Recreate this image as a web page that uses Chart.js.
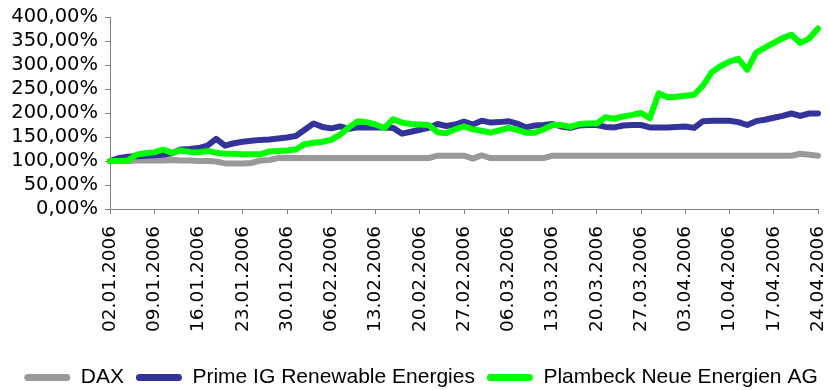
<!DOCTYPE html>
<html>
<head>
<meta charset="utf-8">
<script src="https://cdn.jsdelivr.net/npm/chart.js@4.4.0/dist/chart.umd.min.js"></script>
<style>
html,body{margin:0;padding:0;background:#fff;}
#wrap{width:828px;height:390px;position:relative;}
</style>
</head>
<body>
<div id="wrap"><canvas id="c" width="828" height="390"></canvas></div>
<script>
const dates = [
"02.01.2006","03.01.2006","04.01.2006","05.01.2006","06.01.2006","09.01.2006","10.01.2006","11.01.2006","12.01.2006","13.01.2006",
"16.01.2006","17.01.2006","18.01.2006","19.01.2006","20.01.2006","23.01.2006","24.01.2006","25.01.2006","26.01.2006","27.01.2006",
"30.01.2006","31.01.2006","01.02.2006","02.02.2006","03.02.2006","06.02.2006","07.02.2006","08.02.2006","09.02.2006","10.02.2006",
"13.02.2006","14.02.2006","15.02.2006","16.02.2006","17.02.2006","20.02.2006","21.02.2006","22.02.2006","23.02.2006","24.02.2006",
"27.02.2006","28.02.2006","01.03.2006","02.03.2006","03.03.2006","06.03.2006","07.03.2006","08.03.2006","09.03.2006","10.03.2006",
"13.03.2006","14.03.2006","15.03.2006","16.03.2006","17.03.2006","20.03.2006","21.03.2006","22.03.2006","23.03.2006","24.03.2006",
"27.03.2006","28.03.2006","29.03.2006","30.03.2006","31.03.2006","03.04.2006","04.04.2006","05.04.2006","06.04.2006","07.04.2006",
"10.04.2006","11.04.2006","12.04.2006","13.04.2006","14.04.2006","17.04.2006","18.04.2006","19.04.2006","20.04.2006","21.04.2006",
"24.04.2006"
];

const daxValues = [
100,100,100,101,101,101,101,102,101,101,
100,100,99,95,95,95,96,101,102,106,
106,106,106,106,106,106,106,106,106,106,
106,106,106,106,106,106,106,111,111,111,
111,105,112,106,106,106,106,106,106,106,
111,111,111,111,111,111,111,111,111,111,
111,111,111,111,111,111,111,111,111,111,
111,111,111,111,111,111,111,111,115,113,
111
];

const primeValues = [
100,106,109,110,111,112,113,116,124,125,
127,132,146,132,137,140,142,144,145,147,
149,152,165,178,171,168,172,167,170,170,
170,170,169,157,161,165,169,177,173,176,
182,176,184,180,181,183,178,170,174,175,
177,172,169,174,175,175,171,170,174,175,
175,170,170,170,171,172,169,183,184,184,
184,181,175,183,186,190,194,199,194,199,
199
];

const plambeckValues = [
100,100,101,113,116,118,124,117,122,119,
118,121,117,115,115,114,114,114,120,121,
122,124,135,138,140,144,155,170,183,181,
176,169,187,180,177,176,175,160,158,166,
172,166,163,159,164,169,165,159,159,166,
175,175,171,177,178,178,191,188,193,196,
200,189,241,233,234,236,238,257,285,298,
307,313,290,326,336,346,356,363,346,355,
376
];

const seriesNames = ["DAX", "Prime IG Renewable Energies", "Plambeck Neue Energien AG"];
const seriesColors = ["#999999", "#333399", "#00FF00"];
const yTicks = [0, 50, 100, 150, 200, 250, 300, 350, 400];

function mk(i, data, order) {
  return {
    label: seriesNames[i],
    data: data,
    borderColor: seriesColors[i],
    backgroundColor: seriesColors[i],
    borderWidth: 6,
    pointRadius: 0,
    pointHoverRadius: 0,
    tension: 0,
    borderJoinStyle: 'round',
    borderCapStyle: 'round',
    order: order
  };
}

const legendShift = {
  id: 'legendShift',
  afterLayout(chart) {
    if (chart.legend) { chart.legend.left += 12; chart.legend.right += 12; }
  }
};

new Chart(document.getElementById('c'), {
  type: 'line',
  data: {
    labels: dates,
    datasets: [mk(0, daxValues, 3), mk(1, primeValues, 2), mk(2, plambeckValues, 1)]
  },
  plugins: [legendShift],
  options: {
    responsive: false,
    animation: false,
    devicePixelRatio: 1,
    layout: { padding: { left: 0, right: 10, top: 17, bottom: -8 } },
    plugins: {
      tooltip: { enabled: false },
      legend: {
        position: 'bottom',
        labels: {
          sort: (a, b) => a.datasetIndex - b.datasetIndex,
          boxWidth: 46,
          boxHeight: 7,
          useBorderRadius: true,
          borderRadius: 3.5,
          padding: 12,
          color: '#000',
          font: { family: 'Liberation Sans, Arial, sans-serif', size: 21 },
          generateLabels: (chart) => Chart.defaults.plugins.legend.labels.generateLabels(chart)
            .map(l => Object.assign({}, l, { lineWidth: 0, fillStyle: l.strokeStyle }))
        }
      }
    },
    scales: {
      x: {
        type: 'category',
        offset: false,
        afterFit: (s) => { s.height = 146; s.paddingLeft = 0; s.paddingRight = 0; },
        border: { display: true, color: '#808080', width: 1 },
        grid: { display: true, drawOnChartArea: false, drawTicks: true, tickLength: 5, color: '#808080' },
        ticks: {
          autoSkip: false,
          maxRotation: 90,
          minRotation: 90,
          padding: 12,
          color: '#000',
          font: { family: 'DejaVu Sans', size: 18.5 },
          callback: function (v, i) { return (i % 5 === 0) ? dates[i] : null; }
        }
      },
      y: {
        min: 0,
        max: 400,
        afterFit: (s) => { s.width = 110; s.paddingTop = 0; s.paddingBottom = 0; },
        afterBuildTicks: (s) => { s.ticks = yTicks.map(v => ({ value: v })); },
        border: { display: true, color: '#808080', width: 1 },
        grid: { display: true, drawOnChartArea: false, drawTicks: true, tickLength: 5, color: '#808080' },
        ticks: {
          autoSkip: false,
          padding: 7,
          color: '#000',
          font: { family: 'DejaVu Sans', size: 19.5 },
          callback: (v) => v.toFixed(2).replace('.', ',') + '%'
        }
      }
    }
  }
});
</script>
</body>
</html>
